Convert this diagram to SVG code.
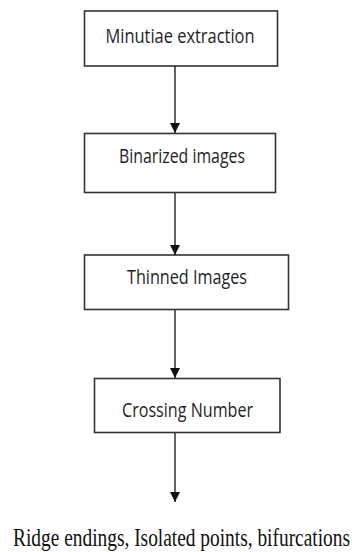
<svg xmlns="http://www.w3.org/2000/svg" width="352" height="552" viewBox="0 0 352 552">
  <style>
    .box { fill: #ffffff; stroke: #333333; stroke-width: 1.6; }
    .lbl { font-family: "Open Sans", "Liberation Sans", sans-serif; font-size: 15px; fill: #1e1e2a; text-anchor: middle; }
    .out { font-family: "Liberation Serif", "Times New Roman", serif; font-size: 17px; fill: #111111; text-anchor: middle; }
    .edge { stroke: #222222; stroke-width: 1.4; fill: none; marker-end: url(#head); }
  </style>
  <defs>
    <marker id="head" viewBox="0 0 10 13" refX="10" refY="5" markerWidth="10" markerHeight="13" markerUnits="userSpaceOnUse" orient="auto">
      <path d="M0,0 L13,5 L0,10 Z" fill="#111111" transform="scale(0.77,1)"/>
    </marker>
  </defs>
  <rect width="352" height="552" fill="#ffffff"/>

  <g id="minutiae-extraction">
    <rect class="box" x="84.5" y="11" width="193" height="55"/>
    <text class="lbl" transform="translate(180,43) scale(1,1.35)" textLength="149" lengthAdjust="spacingAndGlyphs">Minutiae extraction</text>
  </g>

  <g id="binarized-images">
    <rect class="box" x="84.5" y="133.5" width="191" height="59"/>
    <text class="lbl" transform="translate(182,163) scale(1,1.35)" textLength="126" lengthAdjust="spacingAndGlyphs">Binarized images</text>
  </g>

  <g id="thinned-images">
    <rect class="box" x="84.5" y="255" width="204" height="54.5"/>
    <text class="lbl" transform="translate(187,284) scale(1,1.35)" textLength="120" lengthAdjust="spacingAndGlyphs">Thinned Images</text>
  </g>

  <g id="crossing-number">
    <rect class="box" x="94.5" y="378.5" width="185.5" height="54"/>
    <text class="lbl" transform="translate(187.5,417) scale(1,1.35)" textLength="131" lengthAdjust="spacingAndGlyphs">Crossing Number</text>
  </g>

  <g id="minutiae-types">
    <text class="out" transform="translate(181.5,546) scale(1,1.45)" textLength="337" lengthAdjust="spacingAndGlyphs">Ridge endings, Isolated points, bifurcations</text>
  </g>

  <g id="connectors">
    <line class="edge" x1="175" y1="66" x2="175" y2="133"/>
    <line class="edge" x1="175" y1="193" x2="175" y2="255"/>
    <line class="edge" x1="175" y1="310" x2="175" y2="378"/>
    <line class="edge" x1="175" y1="433" x2="175" y2="502"/>
  </g>
</svg>
